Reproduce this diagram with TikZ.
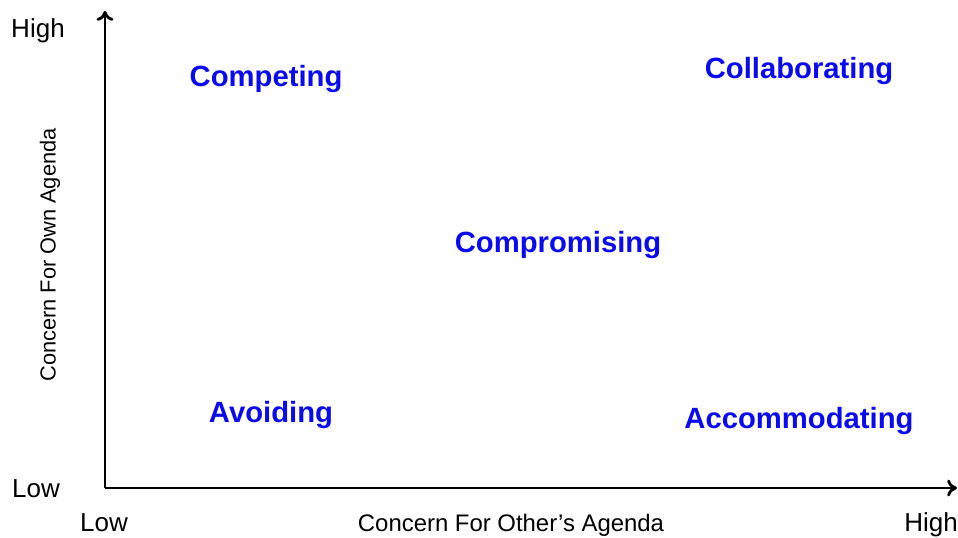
\documentclass[tikz,border=0pt]{standalone}
\usepackage{xcolor}
\usepackage{fontspec}
\setmainfont{Liberation Sans}
\usetikzlibrary{arrows.meta}
\definecolor{stylblue}{RGB}{10,10,240}
\tikzset{
  endlbl/.style={font=\fontsize{18.5}{22}\selectfont,text=black,inner sep=0pt,anchor=base},
  axislbl/.style={font=\fontsize{17}{20}\selectfont,text=black,inner sep=0pt},
  stylelbl/.style={font=\fontsize{20.8}{25}\selectfont\bfseries,text=stylblue,inner sep=0pt,anchor=base},
  axisline/.style={line width=2pt,-{To[length=7pt,width=12pt]}}
}

\begin{document}
\begin{tikzpicture}[x=0.025cm,y=-0.025cm]
      \useasboundingbox (0,0) rectangle (958,538);
      \coordinate (O) at (105,488);
      \coordinate (ytop) at (105,11);
      \coordinate (xend) at (957,488);
      \draw[axisline] (O) -- (ytop);
      \draw[axisline] (O) -- (xend);
      % axis ends
      \node[endlbl] (yhigh) at (38,38) {High};
      \node[endlbl] (ylow) at (36,497) {Low};
      \node[endlbl] (xlow) at (104,531) {Low};
      \node[endlbl] (xhigh) at (931,531) {High};
      \node[axislbl,anchor=base] (xname) at (511,531) {Concern For Other's Agenda};
      \node[axislbl,font=\fontsize{15.5}{18}\selectfont,rotate=90] (yname) at (50,255) {Concern For Own Agenda};
      % the five styles
      \node[stylelbl] (competing) at (266,87) {Competing};
      \node[stylelbl] (collab) at (799,79) {Collaborating};
      \node[stylelbl] (comprom) at (558,252) {Compromising};
      \node[stylelbl] (avoiding) at (271,422) {Avoiding};
      \node[stylelbl] (accomm) at (799,428) {Accommodating};
    \end{tikzpicture}
\end{document}
